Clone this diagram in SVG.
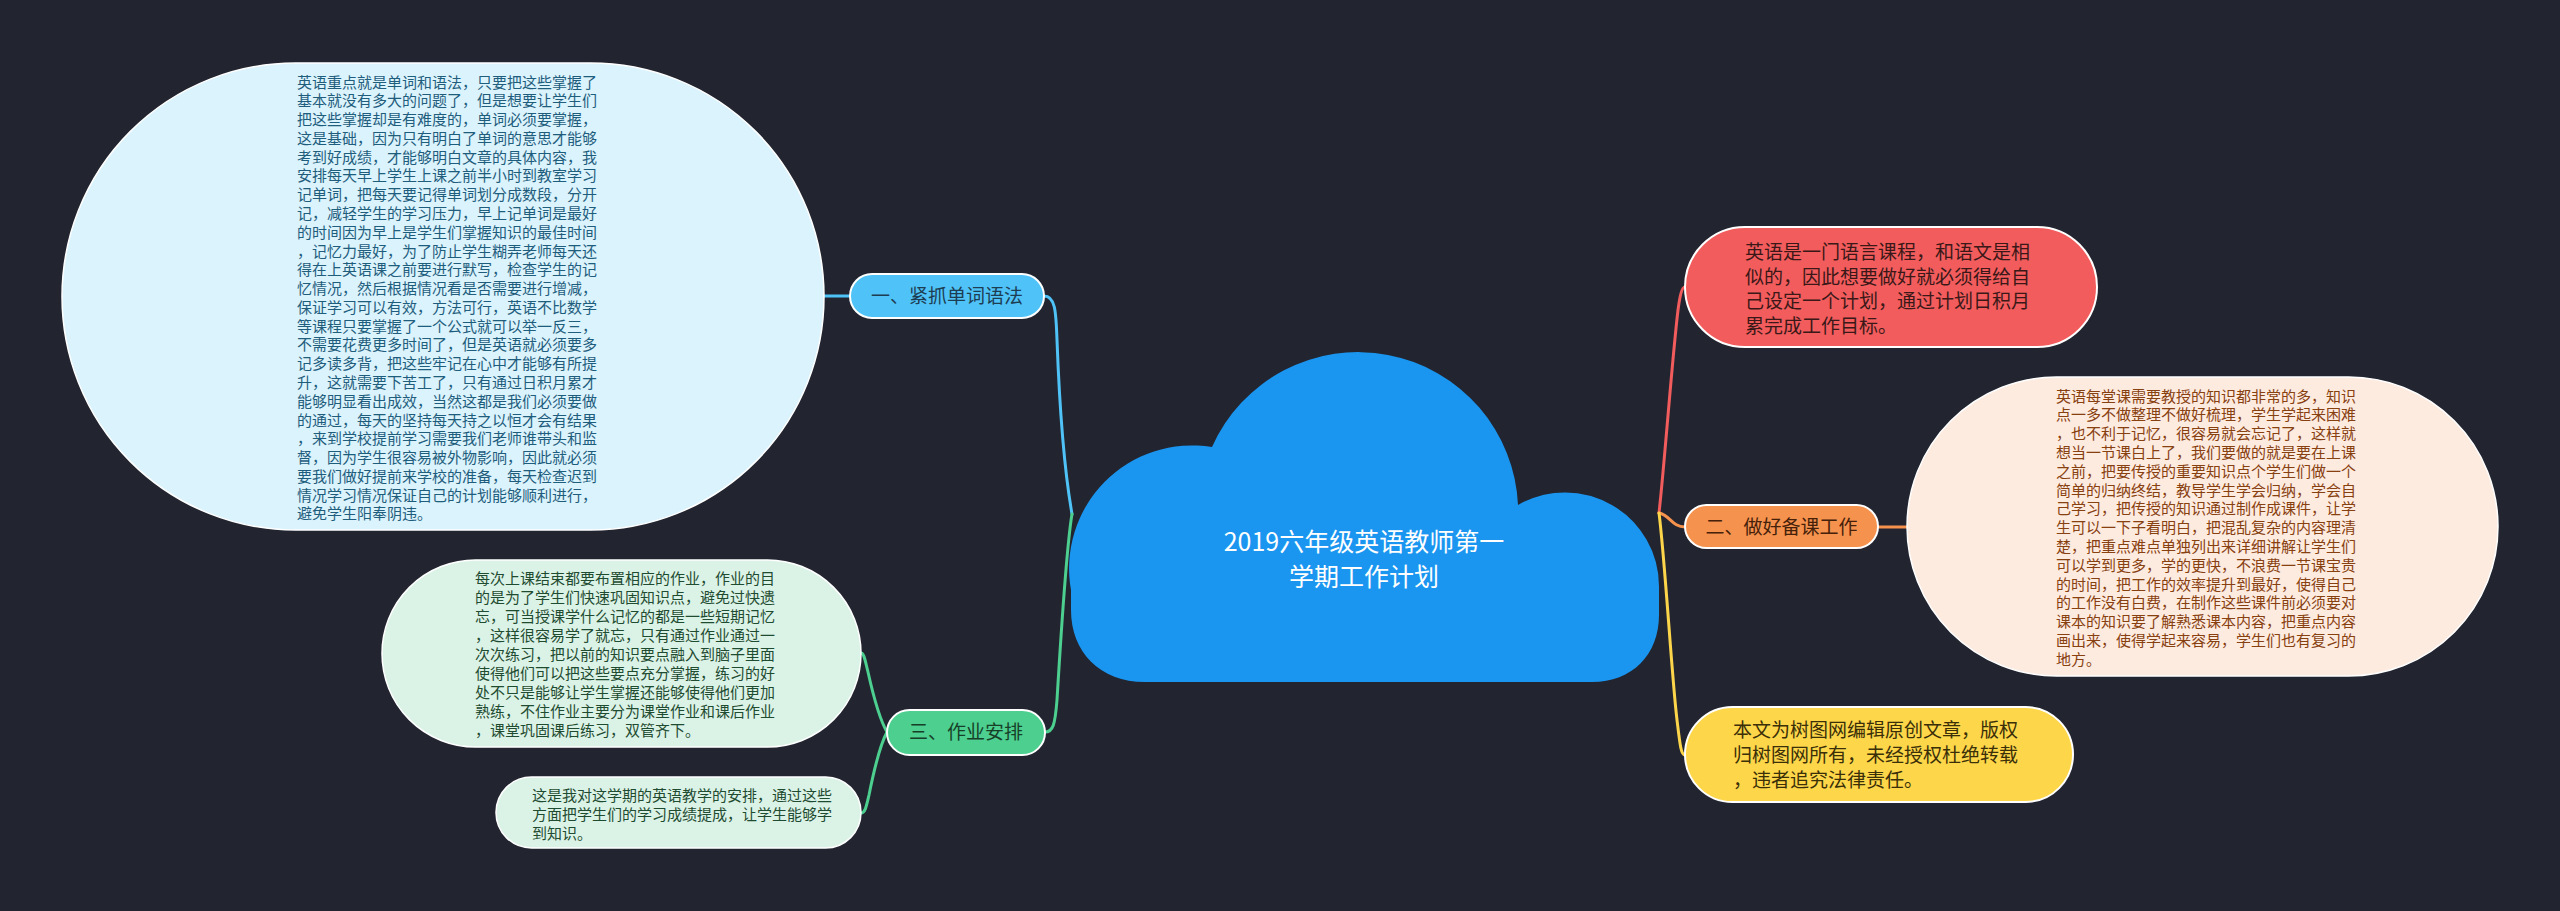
<svg xmlns="http://www.w3.org/2000/svg" width="2560" height="911" viewBox="0 0 2560 911">
<style>
text{font-family:"Noto Sans CJK SC","Noto Sans",sans-serif}
.s{font-size:15px}
.m{font-size:19px}
.t{font-size:19px;text-anchor:middle}
.c{font-size:25px;text-anchor:middle;fill:#ffffff}
.nd{stroke:#ffffff;stroke-width:2}
.ln{fill:none;stroke-width:3;stroke-linecap:round}
</style>
<rect x="0" y="0" width="2560" height="911" fill="#222530"/>
<g id="connectors">
<path class="ln" stroke="#4fc3f7" d="M1072,514 C1066,480 1060,420 1057,340 C1056,310 1055,296 1044,296"/>
<path class="ln" stroke="#4fc3f7" d="M824,296 L850,296"/>
<path class="ln" stroke="#4ccf8f" d="M1072,514 C1066,550 1060,650 1057,700 C1055,725 1053,732 1045,732"/>
<path class="ln" stroke="#4ccf8f" d="M887,732 C880,720 872,690 868,672 C865,660 864,653 861,653"/>
<path class="ln" stroke="#4ccf8f" d="M887,732 C880,745 873,775 869,795 C866,808 865,813 861,813"/>
<path class="ln" stroke="#f25c5c" d="M1659,513 C1664,470 1672,360 1678,310 C1680,295 1682,287 1685,287"/>
<path class="ln" stroke="#f5924e" d="M1659,513 C1670,515 1672,527 1685,527"/>
<path class="ln" stroke="#f5924e" d="M1878,527 L1907,527"/>
<path class="ln" stroke="#fcd54a" d="M1659,513 C1665,560 1672,680 1677,720 C1680,745 1681,755 1685,755"/>
</g>
<g id="root">
<path fill="#1b96f0" d="M1145,682 L1592,682 C1632,682 1659,655 1659,615 L1659,587 A94,94 0 0 0 1518,505 A160,160 0 0 0 1212,447 A123,123 0 0 0 1071,590 L1071,610 C1071,652 1100,682 1145,682 Z"/>
<text class="c" x="1364" y="551">2019六年级英语教师第一</text>
<text class="c" x="1364" y="586">学期工作计划</text>
</g>
<g id="topic1">
<rect class="nd" x="850" y="274" width="194" height="44" rx="22" fill="#4fc3f7"/>
<text class="t" x="947" y="303" fill="#1d3d52">一、紧抓单词语法</text>
</g>
<g id="topic1-detail">
<rect x="62" y="63" width="762" height="467" rx="233.5" fill="#daf3fd" stroke="#ffffff" stroke-width="1.5"/>
<text class="s" fill="#1f5d7c" x="297" y="87.5">
<tspan x="297" dy="0">英语重点就是单词和语法，只要把这些掌握了</tspan>
<tspan x="297" dy="18.78">基本就没有多大的问题了，但是想要让学生们</tspan>
<tspan x="297" dy="18.78">把这些掌握却是有难度的，单词必须要掌握，</tspan>
<tspan x="297" dy="18.78">这是基础，因为只有明白了单词的意思才能够</tspan>
<tspan x="297" dy="18.78">考到好成绩，才能够明白文章的具体内容，我</tspan>
<tspan x="297" dy="18.78">安排每天早上学生上课之前半小时到教室学习</tspan>
<tspan x="297" dy="18.78">记单词，把每天要记得单词划分成数段，分开</tspan>
<tspan x="297" dy="18.78">记，减轻学生的学习压力，早上记单词是最好</tspan>
<tspan x="297" dy="18.78">的时间因为早上是学生们掌握知识的最佳时间</tspan>
<tspan x="297" dy="18.78">，记忆力最好，为了防止学生糊弄老师每天还</tspan>
<tspan x="297" dy="18.78">得在上英语课之前要进行默写，检查学生的记</tspan>
<tspan x="297" dy="18.78">忆情况，然后根据情况看是否需要进行增减，</tspan>
<tspan x="297" dy="18.78">保证学习可以有效，方法可行，英语不比数学</tspan>
<tspan x="297" dy="18.78">等课程只要掌握了一个公式就可以举一反三，</tspan>
<tspan x="297" dy="18.78">不需要花费更多时间了，但是英语就必须要多</tspan>
<tspan x="297" dy="18.78">记多读多背，把这些牢记在心中才能够有所提</tspan>
<tspan x="297" dy="18.78">升，这就需要下苦工了，只有通过日积月累才</tspan>
<tspan x="297" dy="18.78">能够明显看出成效，当然这都是我们必须要做</tspan>
<tspan x="297" dy="18.78">的通过，每天的坚持每天持之以恒才会有结果</tspan>
<tspan x="297" dy="18.78">，来到学校提前学习需要我们老师谁带头和监</tspan>
<tspan x="297" dy="18.78">督，因为学生很容易被外物影响，因此就必须</tspan>
<tspan x="297" dy="18.78">要我们做好提前来学校的准备，每天检查迟到</tspan>
<tspan x="297" dy="18.78">情况学习情况保证自己的计划能够顺利进行，</tspan>
<tspan x="297" dy="18.78">避免学生阳奉阴违。</tspan>
</text>
</g>
<g id="topic3">
<rect class="nd" x="887" y="710" width="158" height="45" rx="22.5" fill="#4ccf8f"/>
<text class="t" x="966" y="739" fill="#173f28">三、作业安排</text>
</g>
<g id="topic3-detail1">
<rect x="382" y="560" width="479" height="187" rx="93.5" fill="#dbf3e7" stroke="#ffffff" stroke-width="1.5"/>
<text class="s" fill="#1f4b31" x="475" y="583.5">
<tspan x="475" dy="0">每次上课结束都要布置相应的作业，作业的目</tspan>
<tspan x="475" dy="19">的是为了学生们快速巩固知识点，避免过快遗</tspan>
<tspan x="475" dy="19">忘，可当授课学什么记忆的都是一些短期记忆</tspan>
<tspan x="475" dy="19">，这样很容易学了就忘，只有通过作业通过一</tspan>
<tspan x="475" dy="19">次次练习，把以前的知识要点融入到脑子里面</tspan>
<tspan x="475" dy="19">使得他们可以把这些要点充分掌握，练习的好</tspan>
<tspan x="475" dy="19">处不只是能够让学生掌握还能够使得他们更加</tspan>
<tspan x="475" dy="19">熟练，不住作业主要分为课堂作业和课后作业</tspan>
<tspan x="475" dy="19">，课堂巩固课后练习，双管齐下。</tspan>
</text>
</g>
<g id="topic3-detail2">
<rect x="496" y="777" width="365" height="71" rx="35.5" fill="#dbf3e7" stroke="#ffffff" stroke-width="1.5"/>
<text class="s" fill="#1f4b31" x="532" y="800.5">
<tspan x="532" dy="0">这是我对这学期的英语教学的安排，通过这些</tspan>
<tspan x="532" dy="19">方面把学生们的学习成绩提成，让学生能够学</tspan>
<tspan x="532" dy="19">到知识。</tspan>
</text>
</g>
<g id="intro">
<rect class="nd" x="1685" y="227" width="412" height="120" rx="60" fill="#f25c5c"/>
<text class="m" fill="#3a1818" x="1745" y="259">
<tspan x="1745" dy="0">英语是一门语言课程，和语文是相</tspan>
<tspan x="1745" dy="24.7">似的，因此想要做好就必须得给自</tspan>
<tspan x="1745" dy="24.7">己设定一个计划，通过计划日积月</tspan>
<tspan x="1745" dy="24.7">累完成工作目标。</tspan>
</text>
</g>
<g id="topic2">
<rect class="nd" x="1685" y="505" width="193" height="43" rx="21.5" fill="#f5924e"/>
<text class="t" x="1781.5" y="534" fill="#46210a">二、做好备课工作</text>
</g>
<g id="topic2-detail">
<rect x="1907" y="377" width="591" height="299" rx="149.5" fill="#feebe0" stroke="#ffffff" stroke-width="1.5"/>
<text class="s" fill="#87400f" x="2056" y="401.5">
<tspan x="2056" dy="0">英语每堂课需要教授的知识都非常的多，知识</tspan>
<tspan x="2056" dy="18.8">点一多不做整理不做好梳理，学生学起来困难</tspan>
<tspan x="2056" dy="18.8">，也不利于记忆，很容易就会忘记了，这样就</tspan>
<tspan x="2056" dy="18.8">想当一节课白上了，我们要做的就是要在上课</tspan>
<tspan x="2056" dy="18.8">之前，把要传授的重要知识点个学生们做一个</tspan>
<tspan x="2056" dy="18.8">简单的归纳终结，教导学生学会归纳，学会自</tspan>
<tspan x="2056" dy="18.8">己学习，把传授的知识通过制作成课件，让学</tspan>
<tspan x="2056" dy="18.8">生可以一下子看明白，把混乱复杂的内容理清</tspan>
<tspan x="2056" dy="18.8">楚，把重点难点单独列出来详细讲解让学生们</tspan>
<tspan x="2056" dy="18.8">可以学到更多，学的更快，不浪费一节课宝贵</tspan>
<tspan x="2056" dy="18.8">的时间，把工作的效率提升到最好，使得自己</tspan>
<tspan x="2056" dy="18.8">的工作没有白费，在制作这些课件前必须要对</tspan>
<tspan x="2056" dy="18.8">课本的知识要了解熟悉课本内容，把重点内容</tspan>
<tspan x="2056" dy="18.8">画出来，使得学起来容易，学生们也有复习的</tspan>
<tspan x="2056" dy="18.8">地方。</tspan>
</text>
</g>
<g id="notice">
<rect class="nd" x="1685" y="707" width="388" height="95" rx="47.5" fill="#fdd649"/>
<text class="m" fill="#3a2f08" x="1733" y="737">
<tspan x="1733" dy="0">本文为树图网编辑原创文章，版权</tspan>
<tspan x="1733" dy="25">归树图网所有，未经授权杜绝转载</tspan>
<tspan x="1733" dy="25">，违者追究法律责任。</tspan>
</text>
</g>
</svg>
